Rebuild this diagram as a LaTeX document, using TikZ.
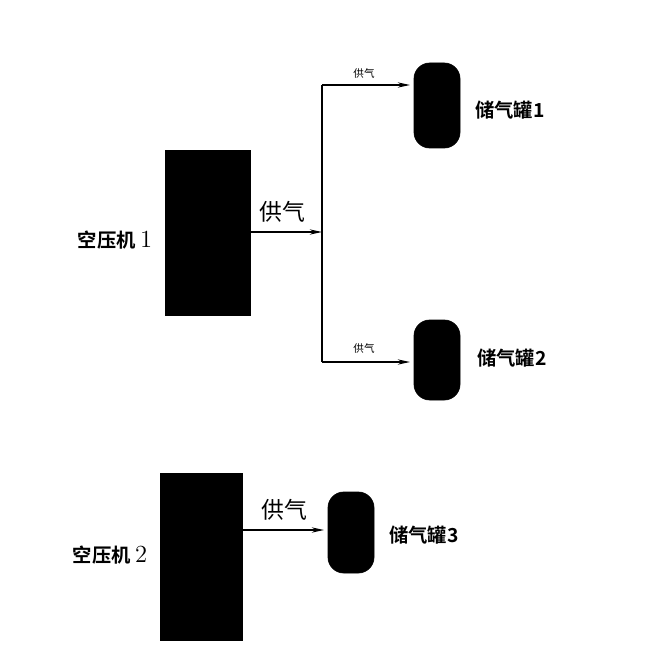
\documentclass[tikz,border=0pt]{standalone}
\usepackage{fontspec}
\newfontfamily\cjk{Noto Sans CJK SC}
\newfontfamily\cjkb{Noto Sans CJK SC Bold}
\usetikzlibrary{arrows.meta}
\begin{document}
\begin{tikzpicture}[x=0.02cm,y=-0.02cm,
  comp/.style={fill=black,draw=black},
  tank/.style={fill=black,rounded corners=9pt},
  lbl/.style={font=\cjkb\fontsize{11}{13}\selectfont},
  big/.style={font=\cjk\fontsize{13}{15}\selectfont},
  small/.style={font=\cjk\fontsize{6}{7}\selectfont},
  arr/.style={-{Stealth[length=7pt,width=3pt]},line width=0.8pt}]
\useasboundingbox (0,0) rectangle (672,672);
\fill[white] (0,0) rectangle (672,672);
\path[comp] (165,150) rectangle (250,315) coordinate (c1se);
\node[comp,minimum width=0pt,inner sep=0pt] (c1) at (207.5,232) {};
\path[comp] (160,473) rectangle (242,640);
\node[inner sep=0pt] (c2) at (201,530) {};
\node[lbl] (l1) at (115,240) {空压机 \fontsize{14}{16}\selectfont\rmfamily 1};
\node[lbl] (l2) at (110,555) {空压机 \fontsize{14}{16}\selectfont\rmfamily 2};
\coordinate (a1) at (250,232);
\coordinate (j) at (322,232);
\coordinate (jt) at (322,85);
\coordinate (jb) at (322,362);
\draw[arr] (a1) -- (j);
\draw[line width=0.8pt] (jt) -- (jb);
\node[big] at (282,212) {供气};
\draw[tank] (414,63) rectangle (460,148);
\node (t1) at (437,105) {};
\draw[tank] (414,320) rectangle (460,400);
\node (t2) at (437,360) {};
\draw[tank] (328,492) rectangle (374,573);
\node (t3) at (351,532) {};
\coordinate (t1w) at (410,85);
\coordinate (t2w) at (410,362);
\draw[arr] (jt) -- (t1w);
\draw[arr] (jb) -- (t2w);
\node[small] at (364,73) {供气};
\node[small] at (364,348) {供气};
\coordinate (a2) at (242,530);
\coordinate (t3w) at (324,530);
\draw[arr] (a2) -- (t3w);
\node[big] at (284,510) {供气};
\node[lbl] at (510,110) {储气罐1};
\node[lbl] at (512,358) {储气罐2};
\node[lbl] at (424,535) {储气罐3};
\end{tikzpicture}
\end{document}
